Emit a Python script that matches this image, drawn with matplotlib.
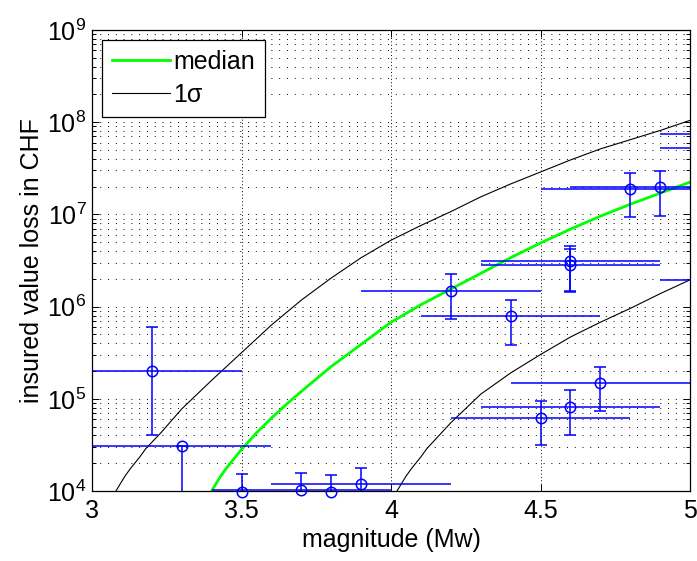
import numpy as np
import matplotlib
matplotlib.use('Agg')
import matplotlib.pyplot as plt
from matplotlib.ticker import LogLocator, NullFormatter, FixedLocator

plt.rcParams['font.family'] = ['Liberation Sans', 'DejaVu Sans']
plt.rcParams['mathtext.fontset'] = 'custom'
plt.rcParams['mathtext.rm'] = 'Liberation Sans'
plt.rcParams['mathtext.it'] = 'Liberation Sans:italic'

# observed events: magnitude and insured loss (CHF)
mag = [3.2, 3.3, 3.5, 3.7, 3.8, 3.9, 4.2, 4.4, 4.5, 4.6, 4.6, 4.6, 4.7, 4.8, 4.9, 5.2, 5.2, 5.2]
mag_err = [0.3] * len(mag)
loss = [2.0e5, 3.1e4, 9.7e3, 1.02e4, 9.7e3, 1.18e4, 1.48e6, 7.9e5, 6.2e4, 8.2e4,
        3.12e6, 2.83e6, 1.5e5, 1.88e7, 1.97e7, 7.45e7, 5.3e7, 1.94e6]
loss_lo = [4.05e4, 5e3, 6e3, 6e3, 6e3, 7.5e3, 7.3e5, 3.8e5, 3.15e4, 4.0e4,
           1.48e6, 1.45e6, 7.4e4, 9.3e6, 9.6e6, 4e7, 3e7, 1e6]
loss_hi = [6.0e5, 3.1e4, 1.52e4, 1.56e4, 1.49e4, 1.76e4, 2.25e6, 1.18e6, 9.5e4, 1.25e5,
           4.54e6, 4.2e6, 2.23e5, 2.79e7, 2.98e7, 1.2e8, 8e7, 3e6]

# model curves (log10 of loss)
med_m = [3.38, 3.40, 3.43, 3.45, 3.48, 3.50, 3.55, 3.60, 3.65, 3.70, 3.80, 3.90, 4.00,
         4.10, 4.20, 4.30, 4.40, 4.50, 4.60, 4.70, 4.80, 4.90, 5.00]
med_log = [3.85, 4.00, 4.16, 4.25, 4.37, 4.45, 4.63, 4.79, 4.94, 5.08, 5.35, 5.59, 5.83,
           6.02, 6.19, 6.36, 6.53, 6.69, 6.84, 6.98, 7.11, 7.23, 7.35]
up_m = [3.06, 3.08, 3.11, 3.13, 3.16, 3.18, 3.23, 3.30, 3.40, 3.50, 3.60, 3.70, 3.80,
        3.90, 4.00, 4.10, 4.20, 4.30, 4.40, 4.50, 4.60, 4.70, 4.80, 4.90, 5.00]
up_log = [3.85, 4.00, 4.16, 4.25, 4.37, 4.46, 4.63, 4.89, 5.20, 5.50, 5.80, 6.07, 6.31,
          6.53, 6.72, 6.88, 7.03, 7.19, 7.33, 7.46, 7.59, 7.71, 7.81, 7.91, 8.02]
lo_m = [4.00, 4.02, 4.05, 4.07, 4.10, 4.12, 4.16, 4.20, 4.30, 4.40, 4.50, 4.60, 4.70,
        4.80, 4.90, 5.00]
lo_log = [3.85, 4.00, 4.16, 4.25, 4.37, 4.46, 4.60, 4.74, 5.05, 5.28, 5.48, 5.67, 5.83,
          5.98, 6.14, 6.29]

fig = plt.figure(figsize=(6.97, 5.61), dpi=100)
ax = fig.add_axes([92 / 697, 1 - 491 / 561, 598 / 697, 461 / 561])
ax.set_yscale('log')

ax.plot(med_m, 10 ** np.array(med_log), color='#00ff00', lw=2.0, label='median', zorder=3)
ax.plot(up_m, 10 ** np.array(up_log), color='k', lw=0.8, label='1σ', zorder=3)
ax.plot(lo_m, 10 ** np.array(lo_log), color='k', lw=0.8, zorder=3)

loss = np.array(loss)
yerr = [loss - np.array(loss_lo), np.array(loss_hi) - loss]
ax.errorbar(mag, loss, yerr=yerr, fmt='none', ecolor='#0000ff', elinewidth=1.1,
            capsize=4.5, capthick=1.1, zorder=4)
ax.errorbar(mag, loss, xerr=mag_err, fmt='none', ecolor='#0000ff', elinewidth=1.1, zorder=4)
inside = [(m <= 5.0) for m in mag]
ax.plot(np.array(mag)[inside], loss[inside], 'o', mfc='none', mec='#0000ff', mew=1.1,
        ms=7.5, clip_on=False, zorder=5)

ax.set_xlim(3, 5)
ax.set_ylim(1e4, 1e9)
ax.xaxis.set_major_locator(FixedLocator([3, 3.5, 4, 4.5, 5]))
ax.set_xticklabels(['3', '3.5', '4', '4.5', '5'])
ax.yaxis.set_major_locator(LogLocator(base=10, numticks=10))
ax.yaxis.set_minor_locator(LogLocator(base=10, subs=np.arange(2, 10), numticks=10))
ax.yaxis.set_minor_formatter(NullFormatter())

ax.tick_params(which='both', direction='in', top=True, right=True, labelsize=18, width=0.7)
ax.tick_params(which='major', length=5)
ax.tick_params(which='minor', length=3)
ax.tick_params(axis='x', pad=6)
ax.tick_params(axis='y', pad=4)

ax.grid(True, axis='x', which='major', color='k', lw=0.7, linestyle=(0, (1, 2.5)))
ax.grid(True, axis='y', which='both', color='k', lw=0.7, linestyle=(0, (1, 7)))
ax.set_axisbelow(True)
for s in ax.spines.values():
    s.set_linewidth(0.9)
    s.set_zorder(4.5)

ax.set_xlabel('magnitude (Mw)', fontsize=18, labelpad=3)
ax.set_ylabel('insured value loss in CHF', fontsize=18, labelpad=2)

leg = ax.legend(loc='upper left', fontsize=18, frameon=True, fancybox=False,
                edgecolor='k', framealpha=1, borderaxespad=0.4, handlelength=2.3,
                handletextpad=0.15, borderpad=0.4, labelspacing=0.35)
leg.get_frame().set_linewidth(0.9)

fig.savefig('out.png', dpi=100)
